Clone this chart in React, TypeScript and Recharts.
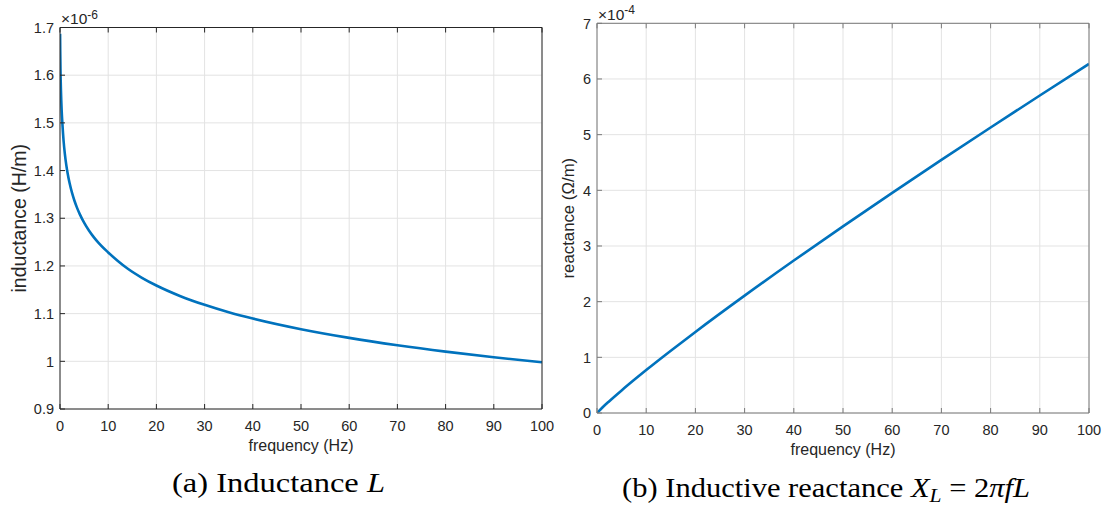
import React from 'react';
import { LineChart, Line, XAxis, YAxis, CartesianGrid } from 'recharts';

// ---------- data ----------
const freqL = [0.02, 0.05, 0.1, 0.2, 0.35, 0.5, 0.75, 1, 1.3, 1.6, 2, 2.5, 3, 3.5, 4.1, 5, 6, 7, 8, 10, 12, 14, 17, 20, 25, 30, 35, 40, 50, 60, 70, 80, 90, 100];
const inductanceL = [1.687, 1.65, 1.612, 1.567, 1.525, 1.498, 1.4615, 1.4356, 1.412, 1.3933, 1.3732, 1.3531, 1.3367, 1.3228, 1.3086, 1.2907, 1.2743, 1.2604, 1.2484, 1.2283, 1.2104, 1.1946, 1.1752, 1.159, 1.1366, 1.1184, 1.1029, 1.0896, 1.0673, 1.0491, 1.0337, 1.0203, 1.0085, 0.998];

const freqX = [0, 1, 2.5, 5, 7.5, 10, 15, 20, 30, 40, 50, 60, 70, 80, 90, 100];
const reactanceX = [0, 0.0902, 0.2126, 0.4055, 0.591, 0.7718, 1.1194, 1.4565, 2.108, 2.7384, 3.353, 3.955, 4.5465, 5.1287, 5.703, 6.2706];

const freqTicks = [0, 10, 20, 30, 40, 50, 60, 70, 80, 90, 100];
const inductanceTicks = [0.9, 1, 1.1, 1.2, 1.3, 1.4, 1.5, 1.6, 1.7];
const reactanceTicks = [0, 1, 2, 3, 4, 5, 6, 7];

const dataL = freqL.map((f, i) => ({ f, v: inductanceL[i] }));
const dataX = freqX.map((f, i) => ({ f, v: reactanceX[i] }));

// ---------- styles ----------
const SANS = '"Liberation Sans", Arial, Helvetica, sans-serif';
const SERIF = '"Liberation Serif", "Times New Roman", serif';
const TEXT = '#262626';
const LINE = '#0072BD';
const GRID = '#e3e3e3';
const TICK_LEN = 5;
const TICK_FS = 14.5;
const LABEL_FS = 16;

const fmt = (v: number) => String(Math.round(v * 10) / 10);

const bottomTick = (color: string) => (p: any) => (
  <g>
    <line x1={p.x} y1={p.y} x2={p.x} y2={p.y - TICK_LEN} stroke={color} strokeWidth={1} />
    <text x={p.x} y={p.y + 22} textAnchor="middle" fill={TEXT} fontSize={TICK_FS} fontFamily={SANS}>
      {fmt(p.payload.value)}
    </text>
  </g>
);
const topTick = (color: string) => (p: any) => (
  <line x1={p.x} y1={p.y} x2={p.x} y2={p.y + TICK_LEN} stroke={color} strokeWidth={1} />
);
const leftTick = (color: string) => (p: any) => (
  <g>
    <line x1={p.x} y1={p.y} x2={p.x + TICK_LEN} y2={p.y} stroke={color} strokeWidth={1} />
    <text x={p.x - 6} y={p.y} dy="0.36em" textAnchor="end" fill={TEXT} fontSize={TICK_FS} fontFamily={SANS}>
      {fmt(p.payload.value)}
    </text>
  </g>
);
const rightTick = (color: string) => (p: any) => (
  <line x1={p.x} y1={p.y} x2={p.x - TICK_LEN} y2={p.y} stroke={color} strokeWidth={1} />
);

type PanelProps = {
  data: { f: number; v: number }[];
  width: number;
  height: number;
  plot: { top: number; right: number; bottom: number; left: number };
  yDomain: [number, number];
  yTicks: number[];
  yLabel: string;
  yLabelOffset: number;
  yLabelSize: number;
  xLabelOffset: number;
  axisColor: string;
};

const X_H = 30;
const Y_W = 40;

function Panel(props: PanelProps) {
  const { data, width, height, plot, yDomain, yTicks, yLabel, yLabelOffset, yLabelSize, xLabelOffset, axisColor } = props;
  const margin = {
    top: plot.top - 1,
    right: plot.right - 1,
    bottom: plot.bottom - X_H,
    left: plot.left - Y_W,
  };
  return (
    <LineChart width={width} height={height} data={data} margin={margin}>
      <CartesianGrid stroke={GRID} strokeWidth={1} />
      <XAxis
        dataKey="f"
        type="number"
        domain={[0, 100]}
        ticks={freqTicks}
        interval={0}
        height={X_H}
        tickSize={0}
        tickMargin={0}
        tickLine={false}
        axisLine={{ stroke: axisColor, strokeWidth: 1 }}
        tick={bottomTick(axisColor)}
        allowDataOverflow
        label={{
          value: 'frequency (Hz)',
          position: 'bottom',
          offset: xLabelOffset - X_H,
          fill: TEXT,
          fontSize: LABEL_FS,
          fontFamily: SANS,
          style: { fontFamily: SANS, fontSize: LABEL_FS, fill: TEXT },
        }}
      />
      <XAxis
        xAxisId="top"
        orientation="top"
        dataKey="f"
        type="number"
        domain={[0, 100]}
        ticks={freqTicks}
        interval={0}
        height={1}
        tickSize={0}
        tickMargin={0}
        tickLine={false}
        axisLine={{ stroke: axisColor, strokeWidth: 1 }}
        tick={topTick(axisColor)}
      />
      <YAxis
        type="number"
        domain={yDomain}
        ticks={yTicks}
        interval={0}
        width={Y_W}
        tickSize={0}
        tickMargin={0}
        tickLine={false}
        axisLine={{ stroke: axisColor, strokeWidth: 1 }}
        tick={leftTick(axisColor)}
        allowDataOverflow
        label={{
          value: yLabel,
          angle: -90,
          position: 'left',
          offset: yLabelOffset - Y_W,
          fill: TEXT,
          fontSize: yLabelSize,
          fontFamily: SANS,
          style: { textAnchor: 'middle', fontFamily: SANS, fontSize: yLabelSize, fill: TEXT },
        }}
      />
      <YAxis
        yAxisId="right"
        orientation="right"
        type="number"
        domain={yDomain}
        ticks={yTicks}
        interval={0}
        width={1}
        tickSize={0}
        tickMargin={0}
        tickLine={false}
        axisLine={{ stroke: axisColor, strokeWidth: 1 }}
        tick={rightTick(axisColor)}
      />
      <Line
        type="monotone"
        dataKey="v"
        stroke={LINE}
        strokeWidth={2.6}
        dot={false}
        activeDot={false}
        isAnimationActive={false}
      />
    </LineChart>
  );
}

export default function App() {
  return (
    <div
      style={{
        position: 'absolute',
        left: 0,
        top: 0,
        width: 1113,
        height: 510,
        background: '#ffffff',
        overflow: 'hidden',
      }}
    >
      <div style={{ position: 'absolute', left: 0, top: 0 }}>
        <Panel
          data={dataL}
          width={560}
          height={510}
          plot={{ top: 27.5, right: 18, bottom: 101, left: 60 }}
          yDomain={[0.9, 1.7]}
          yTicks={inductanceTicks}
          yLabel="inductance (H/m)"
          yLabelOffset={41}
          yLabelSize={19.5}
          xLabelOffset={30.6}
          axisColor="#262626"
        />
      </div>
      <div style={{ position: 'absolute', left: 560, top: 0 }}>
        <Panel
          data={dataX}
          width={553}
          height={510}
          plot={{ top: 23.3, right: 24, bottom: 97, left: 37 }}
          yDomain={[0, 7]}
          yTicks={reactanceTicks}
          yLabel="reactance (Ω/m)"
          yLabelOffset={29}
          yLabelSize={16.8}
          xLabelOffset={31}
          axisColor="#7a7a7a"
        />
      </div>
      <svg
        width={1113}
        height={510}
        style={{ position: 'absolute', left: 0, top: 0, pointerEvents: 'none' }}
      >
        {/* axis exponents */}
        <text x={61} y={24} fill={TEXT} fontFamily={SANS} fontSize={15.5}>
          ×10
          <tspan dy={-5.5} fontSize={12}>-6</tspan>
        </text>
        <text x={598} y={20} fill={TEXT} fontFamily={SANS} fontSize={15.5}>
          ×10
          <tspan dy={-6} fontSize={12}>-4</tspan>
        </text>
        {/* captions */}
        <text
          x={172}
          y={492}
          fill="#000"
          fontFamily={SERIF}
          fontSize={27}
          textLength={213}
          lengthAdjust="spacingAndGlyphs"
        >
          (a) Inductance <tspan fontStyle="italic">L</tspan>
        </text>
        <text
          x={622}
          y={497}
          fill="#000"
          fontFamily={SERIF}
          fontSize={27}
          textLength={408}
          lengthAdjust="spacingAndGlyphs"
        >
          (b) Inductive reactance <tspan fontStyle="italic">X</tspan>
          <tspan dy={5} fontSize={19} fontStyle="italic">L</tspan>
          <tspan dy={-5}> = 2</tspan>
          <tspan fontStyle="italic">πfL</tspan>
        </text>
      </svg>
    </div>
  );
}
